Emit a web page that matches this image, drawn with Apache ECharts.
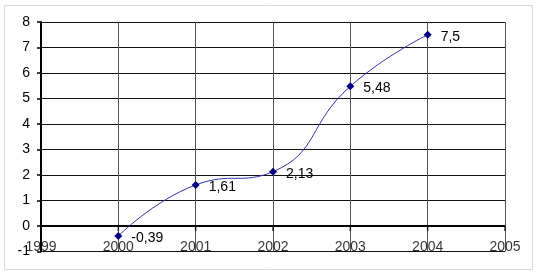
<!DOCTYPE html>
<html><head><meta charset="utf-8">
<script src="https://cdn.jsdelivr.net/npm/echarts@6/dist/echarts.min.js"></script>
<style>html,body{margin:0;padding:0;background:#fff}#c{width:539px;height:276px}</style>
</head><body><div id="c"></div>
<script>
var years = [2000, 2001, 2002, 2003, 2004];
var values = [-0.39, 1.61, 2.13, 5.48, 7.5];
var xTicks = [1999, 2000, 2001, 2002, 2003, 2004, 2005];
var xMin = 1999, xMax = 2005;
var yMin = -1, yMax = 8;

var chart = echarts.init(document.getElementById('c'), null, {renderer: 'canvas'});
var font = 'Arial, "Liberation Sans", sans-serif';
chart.setOption({
  animation: false,
  backgroundColor: '#fff',
  graphic: [{
    type: 'rect', shape: {x: 4.5, y: 5.5, width: 528, height: 264},
    style: {fill: 'none', stroke: '#d9d9d9', lineWidth: 1}, silent: true
  }],
  grid: {left: 41, right: 34, top: 22, bottom: 24.5, show: false},
  xAxis: {
    type: 'value', min: xMin, max: xMax, interval: 1,
    axisLine: {show: false},
    axisTick: {show: false},
    axisLabel: {show: false},
    splitLine: {show: true, lineStyle: {color: '#555', width: 1}}
  },
  yAxis: {
    type: 'value', min: yMin, max: yMax, interval: 1,
    axisLine: {show: true, onZero: false, lineStyle: {color: '#000', width: 2}},
    axisTick: {show: true, length: 4, lineStyle: {color: '#000', width: 1.5}},
    axisLabel: {color: '#000', fontFamily: font, fontSize: 14, margin: 11},
    splitLine: {show: true, lineStyle: {color: '#111', width: 1}}
  },
  series: [{
    type: 'line',
    data: [[xMin, 0], [xMax, 0]],
    symbol: 'none', silent: true,
    lineStyle: {color: '#000', width: 2},
    z: 3
  }, {
    type: 'scatter',
    data: xTicks.map(function(x){ return [x, 0]; }),
    symbol: 'rect', symbolSize: [1.5, 5], symbolOffset: [0, 2.5],
    itemStyle: {color: '#000'}, silent: true,
    label: {
      show: true, position: 'bottom', distance: 9,
      color: '#000', fontFamily: font, fontSize: 14,
      formatter: function(p){ return String(p.value[0]); }
    },
    z: 3
  }, {
    type: 'line',
    data: years.map(function(y, i){ return [y, values[i]]; }),
    smooth: 0.5,
    symbol: 'diamond', symbolSize: 8,
    itemStyle: {color: '#000080'},
    lineStyle: {color: '#3333aa', width: 1},
    label: {
      show: true, position: 'right', distance: 9, offset: [0, 2],
      color: '#000', fontFamily: font, fontSize: 14,
      formatter: function(p){ return String(p.value[1]).replace('.', ','); }
    },
    z: 4
  }]
});
</script></body></html>
